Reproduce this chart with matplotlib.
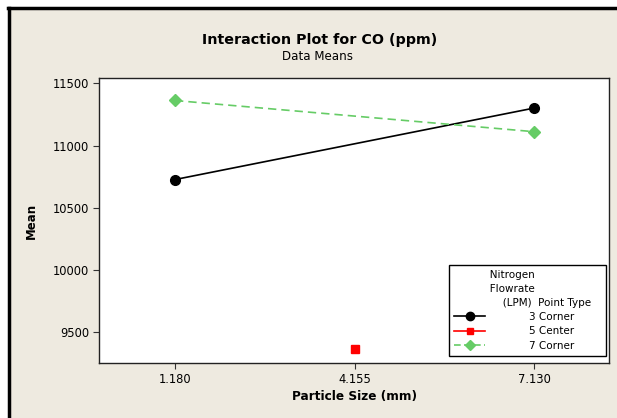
import matplotlib
matplotlib.use("Agg")
import matplotlib.pyplot as plt
from matplotlib.patches import Rectangle
from matplotlib.lines import Line2D

particle_size = [1.180, 4.155, 7.130]
tick_labels = ["1.180", "4.155", "7.130"]

x_3 = [1.180, 7.130]
mean_3 = [10727, 11302]
x_5 = [4.155]
mean_5 = [9366]
x_7 = [1.180, 7.130]
mean_7 = [11363, 11112]

legend_labels = ["3 Corner", "5 Center", "7 Corner"]

plt.rcParams['font.family'] = ['DejaVu Sans']

bg = '#EEEAE0'
fig = plt.figure(figsize=(6.17, 4.18), dpi=100, facecolor='white')
W, H = 617, 418

# beige panel with black left/top border
fig.add_artist(Rectangle((9 / W, 0), 1, 1 - 9 / H, transform=fig.transFigure,
                         facecolor=bg, edgecolor='none', zorder=-10))
fig.add_artist(Line2D([9 / W, 9 / W], [0, 1 - 8 / H], transform=fig.transFigure,
                      color='black', lw=2.5, zorder=10))
fig.add_artist(Line2D([8 / W, 1], [1 - 8 / H, 1 - 8 / H], transform=fig.transFigure,
                      color='black', lw=2.5, zorder=10))

ax = fig.add_axes([99 / W, 1 - 363 / H, (609 - 99) / W, (363 - 78) / H])
ax.set_facecolor('white')

ax.plot(x_3, mean_3, color='black', lw=1.2, marker='o', ms=7, zorder=3)
ax.plot(x_5, mean_5, color='#FF0000', lw=1.2, marker='s', ms=6, ls='none', zorder=3)
ax.plot(x_7, mean_7, color='#66CC66', lw=1.2, ls=(0, (5, 3)), marker='D', ms=6, zorder=3)

ax.set_xlim(-0.08, 8.373)
ax.set_ylim(9251, 11544)
ax.set_xticks(particle_size)
ax.set_xticklabels(tick_labels)
ax.set_yticks([9500, 10000, 10500, 11000, 11500])
ax.tick_params(direction='out', length=4, width=0.8, labelsize=8.3, color='#333333', pad=3)
for s in ax.spines.values():
    s.set_linewidth(1.0)
    s.set_color('#222222')

ax.set_xlabel('Particle Size (mm)', fontsize=8.7, fontweight='bold', labelpad=3)
ax.set_ylabel('Mean', fontsize=8.5, fontweight='bold', labelpad=11)

fig.text(320 / W, 1 - 40 / H, 'Interaction Plot for CO (ppm)', ha='center', va='center',
         fontsize=10.3, fontweight='bold')
fig.text(318 / W, 1 - 57 / H, 'Data Means', ha='center', va='center', fontsize=8.6)

handles = [
    Line2D([], [], color='black', lw=1.2, marker='o', ms=6),
    Line2D([], [], color='#FF0000', lw=1.2, marker='s', ms=5),
    Line2D([], [], color='#66CC66', lw=1.2, ls=(0, (4, 2)), marker='D', ms=5),
]
title = ('           Nitrogen\n'
         '           Flowrate\n'
         '               (LPM)  Point Type   ')
leg = ax.legend(handles, legend_labels, title=title,
                loc='lower right', bbox_to_anchor=((606 - 99) / (609 - 99), 1 - (356 - 78) / (363 - 78)),
                bbox_transform=ax.transAxes, fontsize=7.5, title_fontsize=7.5,
                frameon=True, fancybox=False, edgecolor='black', framealpha=1,
                borderpad=0.5, labelspacing=0.42, handlelength=3.0, handletextpad=4.2,
                alignment='left', borderaxespad=0)
leg.get_frame().set_linewidth(1.0)
leg.get_title().set_multialignment('left')
leg.get_title().set_linespacing(1.45)

fig.savefig('out.png', dpi=100, facecolor='white')
